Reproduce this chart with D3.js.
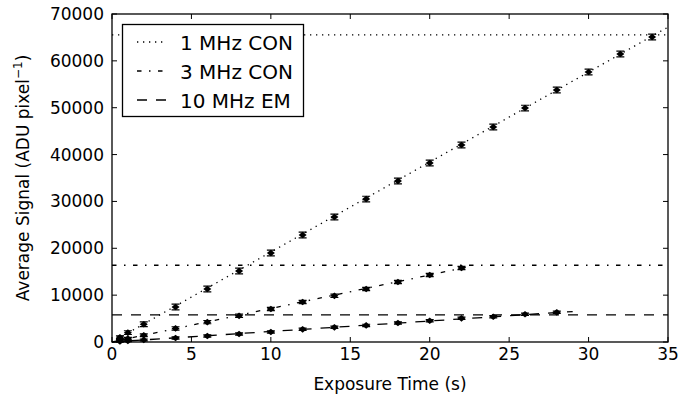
<!DOCTYPE html>
<html>
<head>
<meta charset="utf-8">
<script src="https://cdn.jsdelivr.net/npm/d3@7"></script>
<style>
  body { margin: 0; background: #fff; }
  text { font-family: "DejaVu Sans", sans-serif; fill: #000; }
</style>
</head>
<body>
<script>
// exposure times (s) and average signal (ADU/pixel) per readout mode
const t1 = [0.5, 1, 2, 4, 6, 8, 10, 12, 14, 16, 18, 20, 22, 24, 26, 28, 30, 32, 34]
const s1 = [1000, 2000, 3800, 7470, 11310, 15150, 18990, 22830, 26680, 30510, 34360, 38200, 42040, 45880, 49930, 53780, 57620, 61460, 65090]
const e1 = [300, 400, 500, 600, 600, 600, 600, 600, 600, 600, 600, 600, 600, 600, 600, 600, 600, 600, 600]

const t3 = [0.5, 1, 2, 4, 6, 8, 10, 12, 14, 16, 18, 20, 22]
const s3 = [360, 720, 1450, 2900, 4240, 5580, 7040, 8530, 9850, 11310, 12800, 14300, 15800]
const e3 = [200, 250, 300, 350, 350, 350, 350, 350, 350, 350, 350, 350, 350]

const t10 = [0.5, 1, 2, 4, 6, 8, 10, 12, 14, 16, 18, 20, 22, 24, 26, 28]
const s10 = [110, 220, 440, 860, 1280, 1700, 2130, 2700, 3130, 3540, 4060, 4540, 5050, 5400, 5910, 6330]
const e10 = [150, 150, 200, 250, 250, 250, 250, 250, 250, 250, 250, 250, 250, 250, 250, 250]

// linear fits (end points) and saturation levels
const fitX1 = [0, 35], fitY1 = [0, 67200]
const fitX3 = [0, 22.3], fitY3 = [0, 15950]
const fitX10 = [0, 29], fitY10 = [0, 6500]
const sat1 = 65535, sat3 = 16383, sat10 = 5800

const legendLabels = ['1 MHz CON', '3 MHz CON', '10 MHz EM']
const xTicks = [0, 5, 10, 15, 20, 25, 30, 35]
const yTicks = [0, 10000, 20000, 30000, 40000, 50000, 60000, 70000]

const width = 696, height = 401
const margin = { top: 14, right: 28, bottom: 59, left: 112 }
const dashes = ['1.3,4.7', '4.5,7.5,1.5,7.5', '10,9']

const svg = d3.select('body').append('svg')
  .attr('width', width).attr('height', height)

svg.append('rect').attr('width', width).attr('height', height).attr('fill', '#fff')

const x = d3.scaleLinear().domain([0, 35]).range([margin.left, width - margin.right])
const y = d3.scaleLinear().domain([0, 70000]).range([height - margin.bottom, margin.top])

const plot = svg.append('g')

// saturation lines across the whole plot
;[sat1, sat3, sat10].forEach((v, i) => {
  plot.append('line')
    .attr('x1', x(0)).attr('x2', x(35))
    .attr('y1', y(v)).attr('y2', y(v))
    .attr('stroke', '#000').attr('stroke-width', 1.3)
    .attr('stroke-dasharray', dashes[i])
})

// fit lines
const line = d3.line().x(d => x(d[0])).y(d => y(d[1]))
;[[fitX1, fitY1], [fitX3, fitY3], [fitX10, fitY10]].forEach((f, i) => {
  plot.append('path')
    .datum(d3.zip(f[0], f[1]))
    .attr('d', line)
    .attr('fill', 'none')
    .attr('stroke', '#000').attr('stroke-width', 1.3)
    .attr('stroke-dasharray', dashes[i])
})

// data points with error bars
const series = [[t1, s1, e1], [t3, s3, e3], [t10, s10, e10]]
series.forEach(([ts, ss, es]) => {
  const pts = d3.zip(ts, ss, es)
  const g = plot.append('g').selectAll('g').data(pts).enter().append('g')
  g.append('path')
    .attr('d', d => {
      const cx = x(d[0]), lo = y(d[1] - d[2]), hi = y(d[1] + d[2])
      return `M${cx},${lo}V${hi}M${cx - 4},${lo}H${cx + 4}M${cx - 4},${hi}H${cx + 4}`
    })
    .attr('stroke', '#000').attr('stroke-width', 1.2).attr('fill', 'none')
  g.append('path')
    .attr('transform', d => `translate(${x(d[0])},${y(d[1])})`)
    .attr('d', 'M0,-3.3L4,0L0,3.3L-4,0Z')
    .attr('fill', '#000')
})

// frame
svg.append('rect')
  .attr('x', x(0)).attr('y', y(70000))
  .attr('width', x(35) - x(0)).attr('height', y(0) - y(70000))
  .attr('fill', 'none').attr('stroke', '#000').attr('stroke-width', 1.3)

// inward ticks on all four sides
const tl = 5
const ticks = svg.append('g').attr('stroke', '#000').attr('stroke-width', 1)
xTicks.forEach(v => {
  ticks.append('line').attr('x1', x(v)).attr('x2', x(v)).attr('y1', y(0)).attr('y2', y(0) - tl)
  ticks.append('line').attr('x1', x(v)).attr('x2', x(v)).attr('y1', y(70000)).attr('y2', y(70000) + tl)
})
yTicks.forEach(v => {
  ticks.append('line').attr('x1', x(0)).attr('x2', x(0) + tl).attr('y1', y(v)).attr('y2', y(v))
  ticks.append('line').attr('x1', x(35)).attr('x2', x(35) - tl).attr('y1', y(v)).attr('y2', y(v))
})

svg.append('g').selectAll('text').data(xTicks).enter().append('text')
  .attr('x', d => x(d)).attr('y', y(0) + 18)
  .attr('text-anchor', 'middle').attr('font-size', 17)
  .text(d => d)

svg.append('g').selectAll('text').data(yTicks).enter().append('text')
  .attr('x', x(0) - 8).attr('y', d => y(d) + 6)
  .attr('text-anchor', 'end').attr('font-size', 17)
  .text(d => d)

// axis labels
svg.append('text')
  .attr('x', (x(0) + x(35)) / 2).attr('y', 390)
  .attr('text-anchor', 'middle').attr('font-size', 17)
  .text('Exposure Time (s)')

const yl = svg.append('text')
  .attr('transform', `translate(29,${(y(0) + y(70000)) / 2}) rotate(-90)`)
  .attr('text-anchor', 'middle').attr('font-size', 17)
yl.append('tspan').text('Average Signal (ADU pixel')
yl.append('tspan').attr('font-size', 12).attr('dy', -7).text('−1')
yl.append('tspan').attr('dy', 7).text(')')

// legend
const lg = svg.append('g')
lg.append('rect')
  .attr('x', 122.5).attr('y', 24.5).attr('width', 181).attr('height', 92)
  .attr('fill', '#fff').attr('stroke', '#000').attr('stroke-width', 1.3)
legendLabels.forEach((lab, i) => {
  const ry = 42 + i * 29
  lg.append('line')
    .attr('x1', 137).attr('x2', 166).attr('y1', ry).attr('y2', ry)
    .attr('stroke', '#000').attr('stroke-width', 1.3)
    .attr('stroke-dasharray', dashes[i])
  lg.append('text')
    .attr('x', 180).attr('y', ry + 7.5)
    .attr('font-size', 20)
    .text(lab)
})
</script>
</body>
</html>
